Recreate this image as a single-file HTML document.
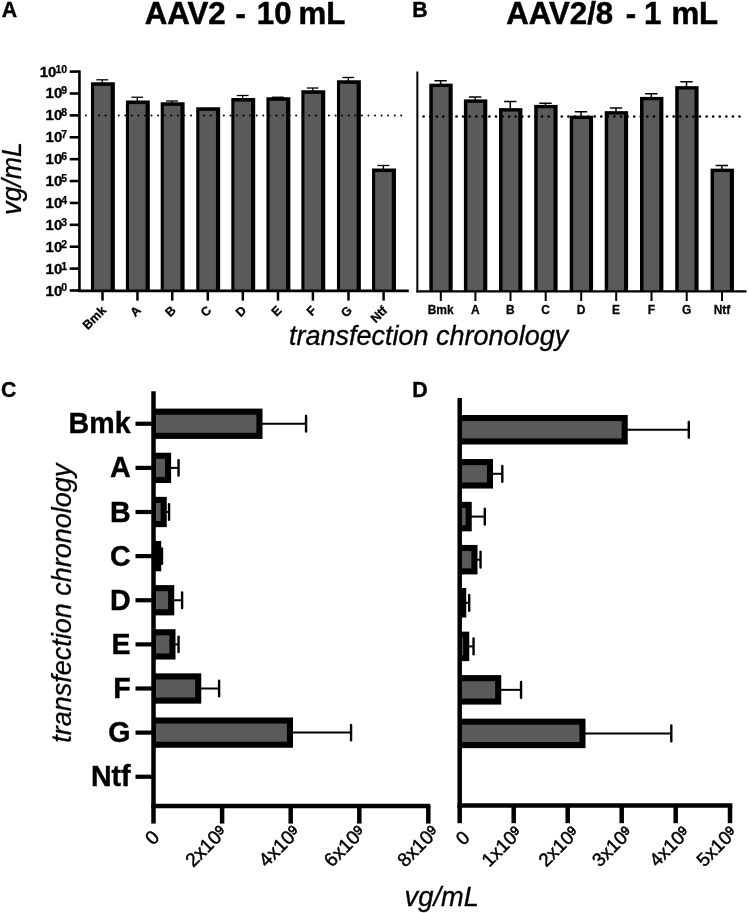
<!DOCTYPE html>
<html><head><meta charset="utf-8"><title>Figure</title>
<style>
html,body{margin:0;padding:0;background:#fff;}
body{width:748px;height:913px;overflow:hidden;font-family:"Liberation Sans",sans-serif;}
svg{display:block;font-family:"Liberation Sans",sans-serif;will-change:transform;}
text{fill:#000;}
</style></head><body>
<svg width="748" height="913" viewBox="0 0 748 913">
<rect x="0" y="0" width="748" height="913" fill="#fff"/>
<text x="1.80" y="17.00" font-size="21.3" font-weight="bold" font-style="normal" text-anchor="start" stroke="#000" stroke-width="0.4">A</text>
<text x="412.30" y="17.00" font-size="21.3" font-weight="bold" font-style="normal" text-anchor="start" stroke="#000" stroke-width="0.4">B</text>
<text x="0.90" y="397.00" font-size="21.3" font-weight="bold" font-style="normal" text-anchor="start" stroke="#000" stroke-width="0.4">C</text>
<text x="412.30" y="397.00" font-size="21.3" font-weight="bold" font-style="normal" text-anchor="start" stroke="#000" stroke-width="0.4">D</text>
<text x="144.70" y="23.60" font-size="31.2" font-weight="bold" font-style="normal" text-anchor="start" stroke="#000" stroke-width="0.5">AAV2</text>
<text x="240.80" y="23.60" font-size="31.2" font-weight="bold" font-style="normal" text-anchor="middle" stroke="#000" stroke-width="0.5">-</text>
<text x="256.80" y="23.60" font-size="31.2" font-weight="bold" font-style="normal" text-anchor="start" stroke="#000" stroke-width="0.5">10</text>
<text x="298.50" y="23.60" font-size="31.2" font-weight="bold" font-style="normal" text-anchor="start" stroke="#000" stroke-width="0.5">mL</text>
<text x="506.30" y="23.60" font-size="31.2" font-weight="bold" font-style="normal" text-anchor="start" stroke="#000" stroke-width="0.5">AAV2/8</text>
<text x="630.90" y="23.60" font-size="31.2" font-weight="bold" font-style="normal" text-anchor="middle" stroke="#000" stroke-width="0.5">-</text>
<text x="644.00" y="23.60" font-size="31.2" font-weight="bold" font-style="normal" text-anchor="start" stroke="#000" stroke-width="0.5">1</text>
<text x="671.40" y="23.60" font-size="31.2" font-weight="bold" font-style="normal" text-anchor="start" stroke="#000" stroke-width="0.5">mL</text>
<line x1="102.30" y1="79.80" x2="102.30" y2="83.25" stroke="#000" stroke-width="1.3" />
<line x1="96.40" y1="79.80" x2="108.20" y2="79.80" stroke="#000" stroke-width="1.3" />
<rect x="90.95" y="82.25" width="23.90" height="208.25" fill="#000"/>
<rect x="94.05" y="85.85" width="16.60" height="204.65" fill="#5a5a5a"/>
<line x1="137.25" y1="97.25" x2="137.25" y2="101.50" stroke="#000" stroke-width="1.3" />
<line x1="131.35" y1="97.25" x2="143.15" y2="97.25" stroke="#000" stroke-width="1.3" />
<rect x="125.90" y="100.50" width="23.90" height="190.00" fill="#000"/>
<rect x="129.00" y="104.10" width="16.60" height="186.40" fill="#5a5a5a"/>
<line x1="172.05" y1="101.00" x2="172.05" y2="103.25" stroke="#000" stroke-width="1.3" />
<line x1="166.15" y1="101.00" x2="177.95" y2="101.00" stroke="#000" stroke-width="1.3" />
<rect x="160.70" y="102.25" width="23.90" height="188.25" fill="#000"/>
<rect x="163.80" y="105.85" width="16.60" height="184.65" fill="#5a5a5a"/>
<rect x="196.25" y="107.25" width="23.90" height="183.25" fill="#000"/>
<rect x="199.35" y="110.85" width="16.60" height="179.65" fill="#5a5a5a"/>
<line x1="242.65" y1="95.50" x2="242.65" y2="99.00" stroke="#000" stroke-width="1.3" />
<line x1="236.75" y1="95.50" x2="248.55" y2="95.50" stroke="#000" stroke-width="1.3" />
<rect x="231.30" y="98.00" width="23.90" height="192.50" fill="#000"/>
<rect x="234.40" y="101.60" width="16.60" height="188.90" fill="#5a5a5a"/>
<line x1="277.80" y1="97.20" x2="277.80" y2="98.25" stroke="#000" stroke-width="1.3" />
<line x1="271.90" y1="97.20" x2="283.70" y2="97.20" stroke="#000" stroke-width="1.3" />
<rect x="266.45" y="97.25" width="23.90" height="193.25" fill="#000"/>
<rect x="269.55" y="100.85" width="16.60" height="189.65" fill="#5a5a5a"/>
<line x1="312.70" y1="88.00" x2="312.70" y2="91.25" stroke="#000" stroke-width="1.3" />
<line x1="306.80" y1="88.00" x2="318.60" y2="88.00" stroke="#000" stroke-width="1.3" />
<rect x="301.35" y="90.25" width="23.90" height="200.25" fill="#000"/>
<rect x="304.45" y="93.85" width="16.60" height="196.65" fill="#5a5a5a"/>
<line x1="348.30" y1="77.50" x2="348.30" y2="81.25" stroke="#000" stroke-width="1.3" />
<line x1="342.40" y1="77.50" x2="354.20" y2="77.50" stroke="#000" stroke-width="1.3" />
<rect x="336.95" y="80.25" width="23.90" height="210.25" fill="#000"/>
<rect x="340.05" y="83.85" width="16.60" height="206.65" fill="#5a5a5a"/>
<line x1="383.40" y1="165.50" x2="383.40" y2="169.50" stroke="#000" stroke-width="1.3" />
<line x1="377.50" y1="165.50" x2="389.30" y2="165.50" stroke="#000" stroke-width="1.3" />
<rect x="372.05" y="168.50" width="23.90" height="122.00" fill="#000"/>
<rect x="375.15" y="172.10" width="16.60" height="118.40" fill="#5a5a5a"/>
<line x1="85.86" y1="115.60" x2="402.50" y2="115.60" stroke="#000" stroke-width="2.0" stroke-dasharray="0.01 6.561" stroke-linecap="round"/>
<line x1="79.45" y1="70.35" x2="79.45" y2="291.75" stroke="#000" stroke-width="2.6" />
<line x1="78.15" y1="290.80" x2="408.80" y2="290.80" stroke="#000" stroke-width="2.7" />
<line x1="69.70" y1="71.60" x2="79.45" y2="71.60" stroke="#000" stroke-width="2.6" />
<line x1="69.70" y1="93.49" x2="79.45" y2="93.49" stroke="#000" stroke-width="2.6" />
<line x1="69.70" y1="115.38" x2="79.45" y2="115.38" stroke="#000" stroke-width="2.6" />
<line x1="69.70" y1="137.27" x2="79.45" y2="137.27" stroke="#000" stroke-width="2.6" />
<line x1="69.70" y1="159.16" x2="79.45" y2="159.16" stroke="#000" stroke-width="2.6" />
<line x1="69.70" y1="181.05" x2="79.45" y2="181.05" stroke="#000" stroke-width="2.6" />
<line x1="69.70" y1="202.94" x2="79.45" y2="202.94" stroke="#000" stroke-width="2.6" />
<line x1="69.70" y1="224.83" x2="79.45" y2="224.83" stroke="#000" stroke-width="2.6" />
<line x1="69.70" y1="246.72" x2="79.45" y2="246.72" stroke="#000" stroke-width="2.6" />
<line x1="69.70" y1="268.61" x2="79.45" y2="268.61" stroke="#000" stroke-width="2.6" />
<line x1="69.70" y1="290.50" x2="79.45" y2="290.50" stroke="#000" stroke-width="2.6" />
<line x1="102.50" y1="290.50" x2="102.50" y2="300.60" stroke="#000" stroke-width="2.5" />
<line x1="137.45" y1="290.50" x2="137.45" y2="300.60" stroke="#000" stroke-width="2.5" />
<line x1="172.25" y1="290.50" x2="172.25" y2="300.60" stroke="#000" stroke-width="2.5" />
<line x1="207.80" y1="290.50" x2="207.80" y2="300.60" stroke="#000" stroke-width="2.5" />
<line x1="242.85" y1="290.50" x2="242.85" y2="300.60" stroke="#000" stroke-width="2.5" />
<line x1="278.00" y1="290.50" x2="278.00" y2="300.60" stroke="#000" stroke-width="2.5" />
<line x1="312.90" y1="290.50" x2="312.90" y2="300.60" stroke="#000" stroke-width="2.5" />
<line x1="348.50" y1="290.50" x2="348.50" y2="300.60" stroke="#000" stroke-width="2.5" />
<line x1="383.60" y1="290.50" x2="383.60" y2="300.60" stroke="#000" stroke-width="2.5" />
<text x="56.42" y="76.60" font-size="15" font-weight="bold" text-anchor="end" stroke="#000" stroke-width="0.35">10</text>
<text x="67.20" y="72.50" font-size="10.5" font-weight="bold" text-anchor="end" stroke="#000" stroke-width="0.25">10</text>
<text x="62.26" y="98.49" font-size="15" font-weight="bold" text-anchor="end" stroke="#000" stroke-width="0.35">10</text>
<text x="67.20" y="94.39" font-size="10.5" font-weight="bold" text-anchor="end" stroke="#000" stroke-width="0.25">9</text>
<text x="62.26" y="120.38" font-size="15" font-weight="bold" text-anchor="end" stroke="#000" stroke-width="0.35">10</text>
<text x="67.20" y="116.28" font-size="10.5" font-weight="bold" text-anchor="end" stroke="#000" stroke-width="0.25">8</text>
<text x="62.26" y="142.27" font-size="15" font-weight="bold" text-anchor="end" stroke="#000" stroke-width="0.35">10</text>
<text x="67.20" y="138.17" font-size="10.5" font-weight="bold" text-anchor="end" stroke="#000" stroke-width="0.25">7</text>
<text x="62.26" y="164.16" font-size="15" font-weight="bold" text-anchor="end" stroke="#000" stroke-width="0.35">10</text>
<text x="67.20" y="160.06" font-size="10.5" font-weight="bold" text-anchor="end" stroke="#000" stroke-width="0.25">6</text>
<text x="62.26" y="186.05" font-size="15" font-weight="bold" text-anchor="end" stroke="#000" stroke-width="0.35">10</text>
<text x="67.20" y="181.95" font-size="10.5" font-weight="bold" text-anchor="end" stroke="#000" stroke-width="0.25">5</text>
<text x="62.26" y="207.94" font-size="15" font-weight="bold" text-anchor="end" stroke="#000" stroke-width="0.35">10</text>
<text x="67.20" y="203.84" font-size="10.5" font-weight="bold" text-anchor="end" stroke="#000" stroke-width="0.25">4</text>
<text x="62.26" y="229.83" font-size="15" font-weight="bold" text-anchor="end" stroke="#000" stroke-width="0.35">10</text>
<text x="67.20" y="225.73" font-size="10.5" font-weight="bold" text-anchor="end" stroke="#000" stroke-width="0.25">3</text>
<text x="62.26" y="251.72" font-size="15" font-weight="bold" text-anchor="end" stroke="#000" stroke-width="0.35">10</text>
<text x="67.20" y="247.62" font-size="10.5" font-weight="bold" text-anchor="end" stroke="#000" stroke-width="0.25">2</text>
<text x="62.26" y="273.61" font-size="15" font-weight="bold" text-anchor="end" stroke="#000" stroke-width="0.35">10</text>
<text x="67.20" y="269.51" font-size="10.5" font-weight="bold" text-anchor="end" stroke="#000" stroke-width="0.25">1</text>
<text x="62.26" y="295.50" font-size="15" font-weight="bold" text-anchor="end" stroke="#000" stroke-width="0.35">10</text>
<text x="67.20" y="291.40" font-size="10.5" font-weight="bold" text-anchor="end" stroke="#000" stroke-width="0.25">0</text>
<text font-size="12.5" font-weight="bold" text-anchor="end" stroke="#000" stroke-width="0.3" transform="translate(106.80 311.2) rotate(-45)">Bmk</text>
<text font-size="12.5" font-weight="bold" text-anchor="end" stroke="#000" stroke-width="0.3" transform="translate(141.75 311.2) rotate(-45)">A</text>
<text font-size="12.5" font-weight="bold" text-anchor="end" stroke="#000" stroke-width="0.3" transform="translate(176.55 311.2) rotate(-45)">B</text>
<text font-size="12.5" font-weight="bold" text-anchor="end" stroke="#000" stroke-width="0.3" transform="translate(212.10 311.2) rotate(-45)">C</text>
<text font-size="12.5" font-weight="bold" text-anchor="end" stroke="#000" stroke-width="0.3" transform="translate(247.15 311.2) rotate(-45)">D</text>
<text font-size="12.5" font-weight="bold" text-anchor="end" stroke="#000" stroke-width="0.3" transform="translate(282.30 311.2) rotate(-45)">E</text>
<text font-size="12.5" font-weight="bold" text-anchor="end" stroke="#000" stroke-width="0.3" transform="translate(317.20 311.2) rotate(-45)">F</text>
<text font-size="12.5" font-weight="bold" text-anchor="end" stroke="#000" stroke-width="0.3" transform="translate(352.80 311.2) rotate(-45)">G</text>
<text font-size="12.5" font-weight="bold" text-anchor="end" stroke="#000" stroke-width="0.3" transform="translate(387.90 311.2) rotate(-45)">Ntf</text>
<text x="21.20" y="178.50" font-size="26.8" font-weight="normal" font-style="italic" text-anchor="middle" transform="rotate(-90 21.20 178.50)" stroke="#000" stroke-width="0.3">vg/mL</text>
<line x1="440.60" y1="80.75" x2="440.60" y2="84.65" stroke="#000" stroke-width="1.5" />
<line x1="434.40" y1="80.75" x2="446.80" y2="80.75" stroke="#000" stroke-width="1.5" />
<rect x="429.30" y="83.65" width="23.40" height="207.55" fill="#000"/>
<rect x="432.80" y="87.05" width="15.80" height="204.15" fill="#5a5a5a"/>
<line x1="475.20" y1="97.00" x2="475.20" y2="100.40" stroke="#000" stroke-width="1.5" />
<line x1="469.00" y1="97.00" x2="481.40" y2="97.00" stroke="#000" stroke-width="1.5" />
<rect x="463.90" y="99.40" width="23.40" height="191.80" fill="#000"/>
<rect x="467.40" y="102.80" width="15.80" height="188.40" fill="#5a5a5a"/>
<line x1="510.30" y1="101.50" x2="510.30" y2="109.15" stroke="#000" stroke-width="1.5" />
<line x1="504.10" y1="101.50" x2="516.50" y2="101.50" stroke="#000" stroke-width="1.5" />
<rect x="499.00" y="108.15" width="23.40" height="183.05" fill="#000"/>
<rect x="502.50" y="111.55" width="15.80" height="179.65" fill="#5a5a5a"/>
<line x1="545.50" y1="103.25" x2="545.50" y2="105.90" stroke="#000" stroke-width="1.5" />
<line x1="539.30" y1="103.25" x2="551.70" y2="103.25" stroke="#000" stroke-width="1.5" />
<rect x="534.20" y="104.90" width="23.40" height="186.30" fill="#000"/>
<rect x="537.70" y="108.30" width="15.80" height="182.90" fill="#5a5a5a"/>
<line x1="581.00" y1="111.75" x2="581.00" y2="116.65" stroke="#000" stroke-width="1.5" />
<line x1="574.80" y1="111.75" x2="587.20" y2="111.75" stroke="#000" stroke-width="1.5" />
<rect x="569.70" y="115.65" width="23.40" height="175.55" fill="#000"/>
<rect x="573.20" y="119.05" width="15.80" height="172.15" fill="#5a5a5a"/>
<line x1="616.00" y1="108.00" x2="616.00" y2="112.15" stroke="#000" stroke-width="1.5" />
<line x1="609.80" y1="108.00" x2="622.20" y2="108.00" stroke="#000" stroke-width="1.5" />
<rect x="604.70" y="111.15" width="23.40" height="180.05" fill="#000"/>
<rect x="608.20" y="114.55" width="15.80" height="176.65" fill="#5a5a5a"/>
<line x1="651.30" y1="93.75" x2="651.30" y2="97.90" stroke="#000" stroke-width="1.5" />
<line x1="645.10" y1="93.75" x2="657.50" y2="93.75" stroke="#000" stroke-width="1.5" />
<rect x="640.00" y="96.90" width="23.40" height="194.30" fill="#000"/>
<rect x="643.50" y="100.30" width="15.80" height="190.90" fill="#5a5a5a"/>
<line x1="686.50" y1="81.75" x2="686.50" y2="87.15" stroke="#000" stroke-width="1.5" />
<line x1="680.30" y1="81.75" x2="692.70" y2="81.75" stroke="#000" stroke-width="1.5" />
<rect x="675.20" y="86.15" width="23.40" height="205.05" fill="#000"/>
<rect x="678.70" y="89.55" width="15.80" height="201.65" fill="#5a5a5a"/>
<line x1="721.85" y1="165.50" x2="721.85" y2="169.65" stroke="#000" stroke-width="1.5" />
<line x1="715.65" y1="165.50" x2="728.05" y2="165.50" stroke="#000" stroke-width="1.5" />
<rect x="710.55" y="168.65" width="23.40" height="122.55" fill="#000"/>
<rect x="714.05" y="172.05" width="15.80" height="119.15" fill="#5a5a5a"/>
<line x1="423.60" y1="116.50" x2="742.00" y2="116.50" stroke="#000" stroke-width="2.7" stroke-dasharray="0.01 6.571" stroke-linecap="round"/>
<line x1="417.35" y1="71.50" x2="417.35" y2="292.40" stroke="#000" stroke-width="2.0" />
<line x1="416.40" y1="291.40" x2="746.50" y2="291.40" stroke="#000" stroke-width="2.2" />
<line x1="440.80" y1="291.00" x2="440.80" y2="301.00" stroke="#000" stroke-width="2.0" />
<line x1="475.40" y1="291.00" x2="475.40" y2="301.00" stroke="#000" stroke-width="2.0" />
<line x1="510.50" y1="291.00" x2="510.50" y2="301.00" stroke="#000" stroke-width="2.0" />
<line x1="545.70" y1="291.00" x2="545.70" y2="301.00" stroke="#000" stroke-width="2.0" />
<line x1="581.20" y1="291.00" x2="581.20" y2="301.00" stroke="#000" stroke-width="2.0" />
<line x1="616.20" y1="291.00" x2="616.20" y2="301.00" stroke="#000" stroke-width="2.0" />
<line x1="651.50" y1="291.00" x2="651.50" y2="301.00" stroke="#000" stroke-width="2.0" />
<line x1="686.70" y1="291.00" x2="686.70" y2="301.00" stroke="#000" stroke-width="2.0" />
<line x1="722.05" y1="291.00" x2="722.05" y2="301.00" stroke="#000" stroke-width="2.0" />
<text font-size="12" font-weight="bold" text-anchor="middle" stroke="#000" stroke-width="0.25" transform="translate(440.70 313.6) scale(1 1.1)">Bmk</text>
<text font-size="12" font-weight="bold" text-anchor="middle" stroke="#000" stroke-width="0.25" transform="translate(475.30 313.6) scale(1 1.1)">A</text>
<text font-size="12" font-weight="bold" text-anchor="middle" stroke="#000" stroke-width="0.25" transform="translate(510.40 313.6) scale(1 1.1)">B</text>
<text font-size="12" font-weight="bold" text-anchor="middle" stroke="#000" stroke-width="0.25" transform="translate(545.60 313.6) scale(1 1.1)">C</text>
<text font-size="12" font-weight="bold" text-anchor="middle" stroke="#000" stroke-width="0.25" transform="translate(581.10 313.6) scale(1 1.1)">D</text>
<text font-size="12" font-weight="bold" text-anchor="middle" stroke="#000" stroke-width="0.25" transform="translate(616.10 313.6) scale(1 1.1)">E</text>
<text font-size="12" font-weight="bold" text-anchor="middle" stroke="#000" stroke-width="0.25" transform="translate(651.40 313.6) scale(1 1.1)">F</text>
<text font-size="12" font-weight="bold" text-anchor="middle" stroke="#000" stroke-width="0.25" transform="translate(686.60 313.6) scale(1 1.1)">G</text>
<text font-size="12" font-weight="bold" text-anchor="middle" stroke="#000" stroke-width="0.25" transform="translate(721.95 313.6) scale(1 1.1)">Ntf</text>
<text x="289.00" y="345.00" font-size="27" font-weight="normal" font-style="italic" text-anchor="start" stroke="#000" stroke-width="0.3">transfection chronology</text>
<line x1="261.50" y1="423.75" x2="306.25" y2="423.75" stroke="#000" stroke-width="2.0" />
<line x1="306.05" y1="416.05" x2="306.05" y2="431.45" stroke="#000" stroke-width="2.4" stroke-linecap="round"/>
<rect x="153.50" y="408.60" width="109.00" height="30.30" fill="#000"/>
<rect x="155.70" y="414.70" width="100.70" height="18.10" fill="#5a5a5a"/>
<line x1="170.10" y1="467.88" x2="178.75" y2="467.88" stroke="#000" stroke-width="2.0" />
<line x1="178.55" y1="460.18" x2="178.55" y2="475.57" stroke="#000" stroke-width="2.4" stroke-linecap="round"/>
<rect x="153.50" y="452.73" width="17.60" height="30.30" fill="#000"/>
<rect x="155.70" y="458.83" width="9.30" height="18.10" fill="#5a5a5a"/>
<line x1="165.75" y1="512.00" x2="169.25" y2="512.00" stroke="#000" stroke-width="2.0" />
<line x1="169.05" y1="504.30" x2="169.05" y2="519.70" stroke="#000" stroke-width="2.4" stroke-linecap="round"/>
<rect x="153.50" y="496.85" width="13.25" height="30.30" fill="#000"/>
<rect x="155.70" y="502.95" width="4.95" height="18.10" fill="#5a5a5a"/>
<line x1="160.25" y1="556.12" x2="162.20" y2="556.12" stroke="#000" stroke-width="2.0" />
<line x1="162.00" y1="548.42" x2="162.00" y2="563.83" stroke="#000" stroke-width="2.4" stroke-linecap="round"/>
<rect x="153.50" y="540.98" width="7.75" height="30.30" fill="#000"/>
<line x1="173.25" y1="600.25" x2="182.30" y2="600.25" stroke="#000" stroke-width="2.0" />
<line x1="182.10" y1="592.55" x2="182.10" y2="607.95" stroke="#000" stroke-width="2.4" stroke-linecap="round"/>
<rect x="153.50" y="585.10" width="20.75" height="30.30" fill="#000"/>
<rect x="155.70" y="591.20" width="12.45" height="18.10" fill="#5a5a5a"/>
<line x1="174.50" y1="644.38" x2="178.75" y2="644.38" stroke="#000" stroke-width="2.0" />
<line x1="178.55" y1="636.67" x2="178.55" y2="652.08" stroke="#000" stroke-width="2.4" stroke-linecap="round"/>
<rect x="153.50" y="629.23" width="22.00" height="30.30" fill="#000"/>
<rect x="155.70" y="635.33" width="13.70" height="18.10" fill="#5a5a5a"/>
<line x1="200.25" y1="688.50" x2="219.30" y2="688.50" stroke="#000" stroke-width="2.0" />
<line x1="219.10" y1="680.80" x2="219.10" y2="696.20" stroke="#000" stroke-width="2.4" stroke-linecap="round"/>
<rect x="153.50" y="673.35" width="47.75" height="30.30" fill="#000"/>
<rect x="155.70" y="679.45" width="39.45" height="18.10" fill="#5a5a5a"/>
<line x1="292.00" y1="732.62" x2="351.25" y2="732.62" stroke="#000" stroke-width="2.0" />
<line x1="351.05" y1="724.92" x2="351.05" y2="740.33" stroke="#000" stroke-width="2.4" stroke-linecap="round"/>
<rect x="153.50" y="717.48" width="139.50" height="30.30" fill="#000"/>
<rect x="155.70" y="723.58" width="131.20" height="18.10" fill="#5a5a5a"/>
<line x1="153.50" y1="391.20" x2="153.50" y2="808.25" stroke="#000" stroke-width="4.5" />
<line x1="151.50" y1="806.00" x2="430.30" y2="806.00" stroke="#000" stroke-width="4.5" />
<line x1="135.50" y1="423.75" x2="153.50" y2="423.75" stroke="#000" stroke-width="4.2" />
<line x1="135.50" y1="467.88" x2="153.50" y2="467.88" stroke="#000" stroke-width="4.2" />
<line x1="135.50" y1="512.00" x2="153.50" y2="512.00" stroke="#000" stroke-width="4.2" />
<line x1="135.50" y1="556.12" x2="153.50" y2="556.12" stroke="#000" stroke-width="4.2" />
<line x1="135.50" y1="600.25" x2="153.50" y2="600.25" stroke="#000" stroke-width="4.2" />
<line x1="135.50" y1="644.38" x2="153.50" y2="644.38" stroke="#000" stroke-width="4.2" />
<line x1="135.50" y1="688.50" x2="153.50" y2="688.50" stroke="#000" stroke-width="4.2" />
<line x1="135.50" y1="732.62" x2="153.50" y2="732.62" stroke="#000" stroke-width="4.2" />
<line x1="135.50" y1="776.75" x2="153.50" y2="776.75" stroke="#000" stroke-width="4.2" />
<line x1="153.50" y1="806.00" x2="153.50" y2="823.60" stroke="#000" stroke-width="4.5" />
<line x1="222.10" y1="806.00" x2="222.10" y2="823.60" stroke="#000" stroke-width="4.5" />
<line x1="290.70" y1="806.00" x2="290.70" y2="823.60" stroke="#000" stroke-width="4.5" />
<line x1="359.30" y1="806.00" x2="359.30" y2="823.60" stroke="#000" stroke-width="4.5" />
<line x1="428.30" y1="806.00" x2="428.30" y2="823.60" stroke="#000" stroke-width="4.5" />
<text x="130.60" y="433.35" font-size="28.6" font-weight="bold" font-style="normal" text-anchor="end" stroke="#000" stroke-width="0.4">Bmk</text>
<text x="130.60" y="477.48" font-size="28.6" font-weight="bold" font-style="normal" text-anchor="end" stroke="#000" stroke-width="0.4">A</text>
<text x="130.60" y="521.60" font-size="28.6" font-weight="bold" font-style="normal" text-anchor="end" stroke="#000" stroke-width="0.4">B</text>
<text x="130.60" y="565.73" font-size="28.6" font-weight="bold" font-style="normal" text-anchor="end" stroke="#000" stroke-width="0.4">C</text>
<text x="130.60" y="609.85" font-size="28.6" font-weight="bold" font-style="normal" text-anchor="end" stroke="#000" stroke-width="0.4">D</text>
<text x="130.60" y="653.98" font-size="28.6" font-weight="bold" font-style="normal" text-anchor="end" stroke="#000" stroke-width="0.4">E</text>
<text x="130.60" y="698.10" font-size="28.6" font-weight="bold" font-style="normal" text-anchor="end" stroke="#000" stroke-width="0.4">F</text>
<text x="130.60" y="742.23" font-size="28.6" font-weight="bold" font-style="normal" text-anchor="end" stroke="#000" stroke-width="0.4">G</text>
<text x="130.60" y="786.35" font-size="28.6" font-weight="bold" font-style="normal" text-anchor="end" stroke="#000" stroke-width="0.4">Ntf</text>
<text x="71.10" y="603.20" font-size="27" font-weight="normal" font-style="italic" text-anchor="middle" transform="rotate(-90 71.10 603.20)" stroke="#000" stroke-width="0.3">transfection chronology</text>
<text font-size="19.3" text-anchor="end" stroke="#000" stroke-width="0.45" transform="translate(160.70 838.40) rotate(-45)">0</text>
<text font-size="19.3" text-anchor="end" stroke="#000" stroke-width="0.45" transform="translate(227.90 833.40) rotate(-45)">2x10<tspan font-size="13.00" dy="-4" stroke-width="0.7">9</tspan></text>
<text font-size="19.3" text-anchor="end" stroke="#000" stroke-width="0.45" transform="translate(301.30 833.40) rotate(-45)">4x10<tspan font-size="13.00" dy="-4" stroke-width="0.7">9</tspan></text>
<text font-size="19.3" text-anchor="end" stroke="#000" stroke-width="0.45" transform="translate(366.50 833.40) rotate(-45)">6x10<tspan font-size="13.00" dy="-4" stroke-width="0.7">9</tspan></text>
<text font-size="19.3" text-anchor="end" stroke="#000" stroke-width="0.45" transform="translate(439.90 833.40) rotate(-45)">8x10<tspan font-size="13.00" dy="-4" stroke-width="0.7">9</tspan></text>
<line x1="626.75" y1="429.75" x2="689.00" y2="429.75" stroke="#000" stroke-width="2.0" />
<line x1="688.80" y1="421.85" x2="688.80" y2="437.65" stroke="#000" stroke-width="2.4" stroke-linecap="round"/>
<rect x="459.70" y="415.00" width="168.05" height="29.50" fill="#000"/>
<rect x="461.90" y="421.10" width="159.75" height="17.30" fill="#5a5a5a"/>
<line x1="492.00" y1="473.80" x2="502.50" y2="473.80" stroke="#000" stroke-width="2.0" />
<line x1="502.30" y1="465.90" x2="502.30" y2="481.70" stroke="#000" stroke-width="2.4" stroke-linecap="round"/>
<rect x="459.70" y="459.05" width="33.30" height="29.50" fill="#000"/>
<rect x="461.90" y="465.15" width="25.00" height="17.30" fill="#5a5a5a"/>
<line x1="470.75" y1="516.60" x2="485.00" y2="516.60" stroke="#000" stroke-width="2.0" />
<line x1="484.80" y1="508.70" x2="484.80" y2="524.50" stroke="#000" stroke-width="2.4" stroke-linecap="round"/>
<rect x="459.70" y="501.85" width="12.05" height="29.50" fill="#000"/>
<rect x="461.90" y="507.95" width="3.75" height="17.30" fill="#5a5a5a"/>
<line x1="476.50" y1="559.70" x2="480.75" y2="559.70" stroke="#000" stroke-width="2.0" />
<line x1="480.55" y1="551.80" x2="480.55" y2="567.60" stroke="#000" stroke-width="2.4" stroke-linecap="round"/>
<rect x="459.70" y="544.95" width="17.80" height="29.50" fill="#000"/>
<rect x="461.90" y="551.05" width="9.50" height="17.30" fill="#5a5a5a"/>
<line x1="465.25" y1="602.80" x2="469.40" y2="602.80" stroke="#000" stroke-width="2.0" />
<line x1="469.20" y1="594.90" x2="469.20" y2="610.70" stroke="#000" stroke-width="2.4" stroke-linecap="round"/>
<rect x="459.70" y="588.05" width="6.55" height="29.50" fill="#000"/>
<line x1="468.25" y1="646.40" x2="473.75" y2="646.40" stroke="#000" stroke-width="2.0" />
<line x1="473.55" y1="638.50" x2="473.55" y2="654.30" stroke="#000" stroke-width="2.4" stroke-linecap="round"/>
<rect x="459.70" y="631.65" width="9.55" height="29.50" fill="#000"/>
<rect x="461.90" y="637.75" width="1.25" height="17.30" fill="#5a5a5a"/>
<line x1="500.25" y1="689.85" x2="521.25" y2="689.85" stroke="#000" stroke-width="2.0" />
<line x1="521.05" y1="681.95" x2="521.05" y2="697.75" stroke="#000" stroke-width="2.4" stroke-linecap="round"/>
<rect x="459.70" y="675.10" width="41.55" height="29.50" fill="#000"/>
<rect x="461.90" y="681.20" width="33.25" height="17.30" fill="#5a5a5a"/>
<line x1="584.50" y1="733.40" x2="671.50" y2="733.40" stroke="#000" stroke-width="2.0" />
<line x1="671.30" y1="725.50" x2="671.30" y2="741.30" stroke="#000" stroke-width="2.4" stroke-linecap="round"/>
<rect x="459.70" y="718.65" width="125.80" height="29.50" fill="#000"/>
<rect x="461.90" y="724.75" width="117.50" height="17.30" fill="#5a5a5a"/>
<line x1="459.70" y1="398.00" x2="459.70" y2="807.85" stroke="#000" stroke-width="4.5" />
<line x1="457.70" y1="805.60" x2="732.30" y2="805.60" stroke="#000" stroke-width="4.5" />
<line x1="459.70" y1="805.60" x2="459.70" y2="823.20" stroke="#000" stroke-width="4.5" />
<line x1="513.70" y1="805.60" x2="513.70" y2="823.20" stroke="#000" stroke-width="4.5" />
<line x1="567.70" y1="805.60" x2="567.70" y2="823.20" stroke="#000" stroke-width="4.5" />
<line x1="621.70" y1="805.60" x2="621.70" y2="823.20" stroke="#000" stroke-width="4.5" />
<line x1="675.70" y1="805.60" x2="675.70" y2="823.20" stroke="#000" stroke-width="4.5" />
<line x1="730.00" y1="805.60" x2="730.00" y2="823.20" stroke="#000" stroke-width="4.5" />
<text font-size="18.8" text-anchor="end" stroke="#000" stroke-width="0.45" transform="translate(470.80 838.90) rotate(-45)">0</text>
<text font-size="18.8" text-anchor="end" stroke="#000" stroke-width="0.45" transform="translate(523.10 834.00) rotate(-45)">1x10<tspan font-size="12.66" dy="-4" stroke-width="0.7">9</tspan></text>
<text font-size="18.8" text-anchor="end" stroke="#000" stroke-width="0.45" transform="translate(580.00 834.00) rotate(-45)">2x10<tspan font-size="12.66" dy="-4" stroke-width="0.7">9</tspan></text>
<text font-size="18.8" text-anchor="end" stroke="#000" stroke-width="0.45" transform="translate(633.60 834.00) rotate(-45)">3x10<tspan font-size="12.66" dy="-4" stroke-width="0.7">9</tspan></text>
<text font-size="18.8" text-anchor="end" stroke="#000" stroke-width="0.45" transform="translate(690.80 834.00) rotate(-45)">4x10<tspan font-size="12.66" dy="-4" stroke-width="0.7">9</tspan></text>
<text font-size="18.8" text-anchor="end" stroke="#000" stroke-width="0.45" transform="translate(738.10 834.00) rotate(-45)">5x10<tspan font-size="12.66" dy="-4" stroke-width="0.7">9</tspan></text>
<text x="404.60" y="906.00" font-size="27.3" font-weight="normal" font-style="italic" text-anchor="start" stroke="#000" stroke-width="0.3">vg/mL</text>
</svg>
</body></html>
